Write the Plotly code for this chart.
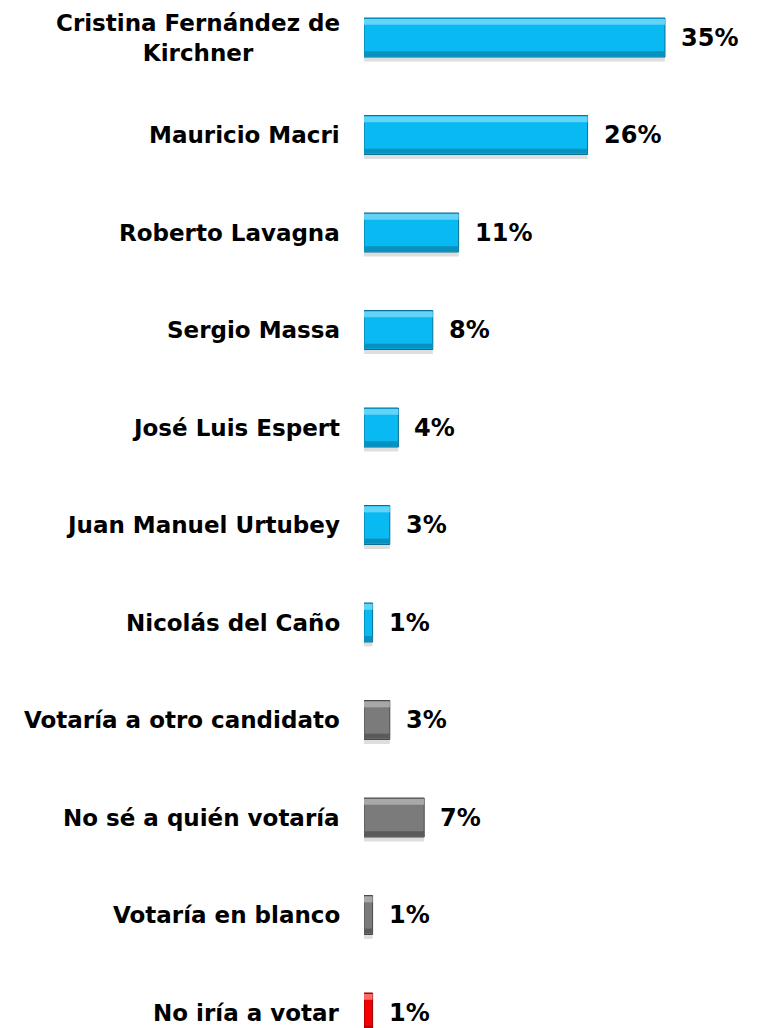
import plotly.graph_objects as go

candidates = [
    "Cristina Fernández de<br>Kirchner",
    "Mauricio Macri",
    "Roberto Lavagna",
    "Sergio Massa",
    "José Luis Espert",
    "Juan Manuel Urtubey",
    "Nicolás del Caño",
    "Votaría a otro candidato",
    "No sé a quién votaría",
    "Votaría en blanco",
    "No iría a votar",
]
values = [35, 26, 11, 8, 4, 3, 1, 3, 7, 1, 1]
groups = ["cand"] * 7 + ["other"] * 3 + ["none"]

base_col = {"cand": "#08B9F2", "other": "#7B7B7B", "none": "#F50000"}
light_col = {"cand": "#63D4F8", "other": "#A8A8A8", "none": "#FF6A6A"}
dark_col = {"cand": "#0890BE", "other": "#5A5A5A", "none": "#B00000"}
line_col = {"cand": "#0A6F93", "other": "#4A4A4A", "none": "#900000"}

FONT = "DejaVu Sans"
BW = 0.40

fig = go.Figure()
# soft shadow
fig.add_trace(go.Bar(
    y=candidates, x=values, orientation="h", width=BW, offset=-BW / 2 + 0.045,
    marker=dict(color="rgba(0,0,0,0.13)", line=dict(width=0)),
    hoverinfo="skip", showlegend=False))
# main bar
fig.add_trace(go.Bar(
    y=candidates, x=values, orientation="h", width=BW, offset=-BW / 2,
    marker=dict(color=[base_col[g] for g in groups],
                line=dict(color=[line_col[g] for g in groups], width=1)),
    showlegend=False))
# top highlight (bevel)
fig.add_trace(go.Bar(
    y=candidates, x=values, orientation="h", width=0.06, offset=-BW / 2 + 0.01,
    marker=dict(color=[light_col[g] for g in groups], line=dict(width=0)),
    hoverinfo="skip", showlegend=False))
# bottom shade (bevel)
fig.add_trace(go.Bar(
    y=candidates, x=values, orientation="h", width=0.05, offset=BW / 2 - 0.06,
    marker=dict(color=[dark_col[g] for g in groups], line=dict(width=0)),
    hoverinfo="skip", showlegend=False))

annotations = []
for c, v in zip(candidates, values):
    annotations.append(dict(
        x=v, y=c, xref="x", yref="y", text=f"<b>{v}%</b>", showarrow=False,
        xanchor="left", yanchor="middle", xshift=14,
        font=dict(family=FONT, size=24, color="#000000")))
    annotations.append(dict(
        x=0, y=c, xref="x", yref="y", text=f"<b>{c}</b>", showarrow=False,
        xanchor="right", yanchor="middle", xshift=-22, align="center",
        font=dict(family=FONT, size=23, color="#000000")))

fig.update_layout(
    width=749, height=1020,
    margin=dict(l=356, r=0, t=0, b=0),
    barmode="overlay",
    plot_bgcolor="white", paper_bgcolor="white",
    xaxis=dict(range=[0, 45.7], visible=False, fixedrange=True),
    yaxis=dict(type="category", categoryorder="array", categoryarray=candidates,
               range=[10.159, -0.3026], showticklabels=False, showgrid=False,
               zeroline=False, showline=False, ticks=""),
    annotations=annotations,
)

fig.write_html("out.html")
